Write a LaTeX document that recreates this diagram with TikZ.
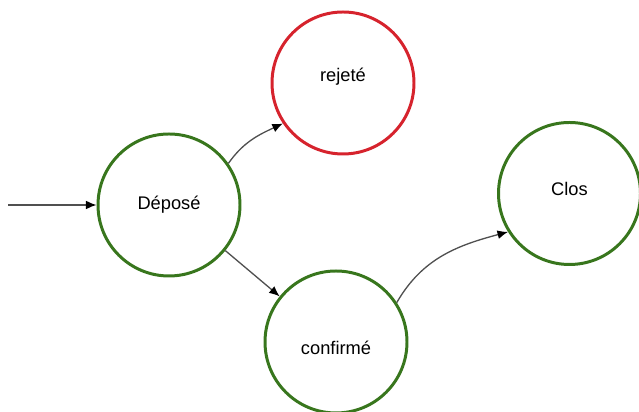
\documentclass[tikz,border=0pt]{standalone}
\usepackage{fontspec}
\setmainfont{Liberation Sans}
\usetikzlibrary{positioning,arrows.meta}

\definecolor{okgreen}{RGB}{56,118,29}
\definecolor{kored}{RGB}{214,35,45}
\definecolor{arrowgrey}{RGB}{80,80,80}

\tikzset{
  etat/.style={circle, draw=okgreen, line width=1.7pt, minimum size=2.84cm,
    inner sep=0pt, font=\fontsize{10.4}{12}\selectfont},
  etatrejet/.style={etat, draw=kored},
  trans/.style={draw=arrowgrey, line width=0.75pt, -{Latex[length=6pt,width=5pt,color=black]}}
}

\begin{document}
\begin{tikzpicture}[on grid]
	  \useasboundingbox (0,0) rectangle (12.78,-8.24);
	  \node[etat] (depose) at (3.38,-4.10) {Déposé};
	  \node[etatrejet, above right=2.44cm and 3.48cm of depose, text depth=9pt] (rejete) {rejeté};
	  \node[etat, below right=2.74cm and 3.34cm of depose, text height=14.4pt] (confirme) {confirmé};
	  \node[etat, above right=2.97cm and 4.67cm of confirme, text depth=5pt] (clos) {Clos};
	  \coordinate[left=3.22cm of depose] (debut);

	  \draw[trans] (debut) -- (depose.west);
	  \draw[trans] (depose.35) to[out=55, in=205] (rejete.214);
	  \draw[trans] (depose.-39) -- (confirme.141);
	  \draw[trans] (confirme.33) to[out=60, in=195] (clos.212);
\end{tikzpicture}
\end{document}
